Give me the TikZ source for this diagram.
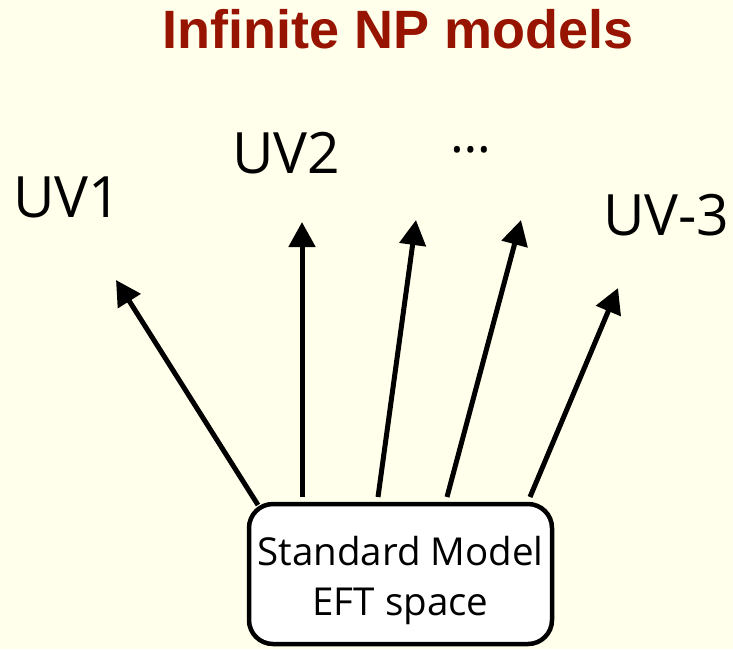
\documentclass[tikz,border=0pt]{standalone}
\usepackage{fontspec}
\setmainfont{Open Sans}
\newfontfamily\titlefont{Liberation Sans}
\usetikzlibrary{arrows.meta}
\definecolor{bgc}{RGB}{255,255,235}
\definecolor{titlec}{RGB}{150,20,0}
\tikzset{
  conn/.style={line width=5pt,-{Triangle[length=25pt,width=26pt]}},
  uvlabel/.style={font=\fontsize{57}{64}\selectfont,inner sep=0pt,anchor=base west},
  boxstyle/.style={draw,line width=4.5pt,rounded corners=24pt,fill=white}
}
\begin{document}
\begin{tikzpicture}[x=1pt,y=-1pt]
\fill[bgc] (0,0) rectangle (733,649);
\useasboundingbox (0,0) rectangle (733,649);
\node[font=\titlefont\bfseries\fontsize{54}{60}\selectfont,text=titlec,inner sep=0pt,anchor=base] (title) at (398,48) {Infinite NP models};
\node[boxstyle,minimum width=303pt,minimum height=140pt] (box) at (400.5,574) {};
\node[align=center,font=\fontsize{38.5}{50}\selectfont,inner sep=0pt] (boxtext) at (400.5,580) {Standard Model\\EFT space};
\node[uvlabel] (uv1) at (13,217) {UV1};
\node[uvlabel] (uv2) at (232,173) {UV2};
\node[uvlabel] (uv3) at (603,235) {UV-3};
\node[font=\fontsize{52}{60}\selectfont,inner sep=0pt] (dots) at (471,150) {\dots};
\coordinate (s1) at (258,505);
\coordinate (s2) at (302,497);
\coordinate (s3) at (378,497);
\coordinate (s4) at (447,497);
\coordinate (s5) at (530,497);
\coordinate (t1) at (116,280);
\coordinate (t2) at (302,222);
\coordinate (t3) at (416,220);
\coordinate (t4) at (521,220);
\coordinate (t5) at (618,288);
\draw[conn] (s1) -- (t1);
\draw[conn] (s2) -- (t2);
\draw[conn] (s3) -- (t3);
\draw[conn] (s4) -- (t4);
\draw[conn] (s5) -- (t5);
\end{tikzpicture}
\end{document}
